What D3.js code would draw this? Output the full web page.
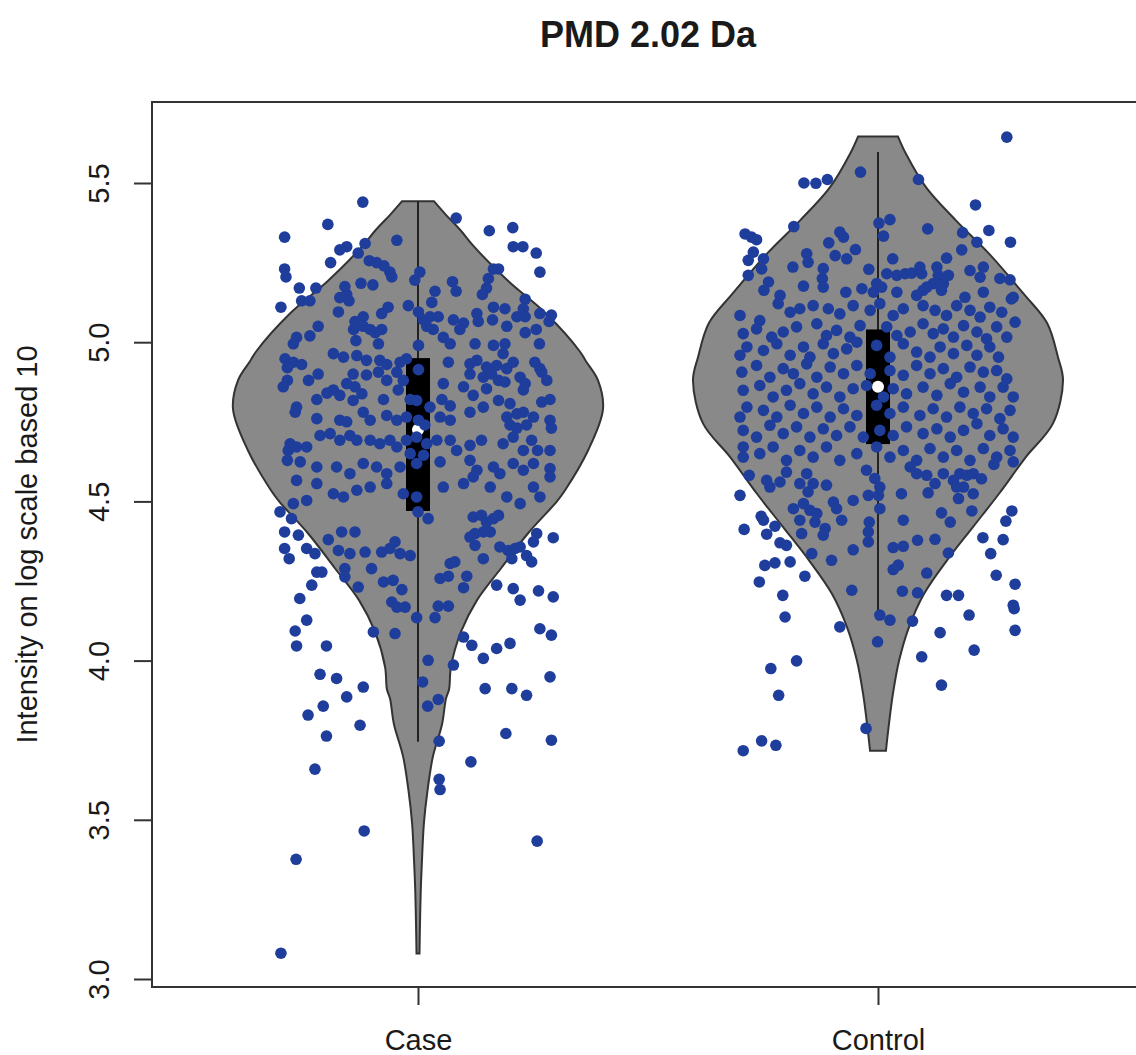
<!doctype html>
<html>
<head>
    <script src="https://d3js.org/d3.v7.min.js"></script>
</head>
<style>
    body { margin: 0; background: #fff; }
    svg text { font-family: "Liberation Sans", Arial, Helvetica, sans-serif; fill: #1a1a1a; }
</style>
<body>
<script>
// categories and summary stats (log10 intensity)
var categories = ["Case", "Control"];
var yTicks = [3.0, 3.5, 4.0, 4.5, 5.0, 5.5];
var medians = [4.725, 4.86];
var q1 = [4.47, 4.68];
var q3 = [4.95, 5.04];
var whiskerLo = [3.745, 4.127];
var whiskerHi = [5.443, 5.597];

// violin outlines: [value, relative density]
var caseOutline = [[5.443,0.086],[5.40,0.151],[5.35,0.232],[5.30,0.303],[5.19,0.492],[5.09,0.692],[4.97,0.876],[4.94,0.908],[4.88,0.973],[4.79,1.0],[4.66,0.919],[4.535,0.795],[4.50,0.751],[4.40,0.595],[4.29,0.449],[4.19,0.319],[4.09,0.232],[3.98,0.178],[3.91,0.168],[3.88,0.151],[3.80,0.13],[3.70,0.081],[3.59,0.051],[3.49,0.032],[3.38,0.022],[3.28,0.015],[3.18,0.011],[3.08,0.008]];
var controlOutline = [[5.646,0.108],[5.592,0.151],[5.487,0.259],[5.382,0.422],[5.278,0.6],[5.15,0.79],[5.06,0.914],[4.953,0.973],[4.88,1.0],[4.745,0.946],[4.64,0.8],[4.524,0.654],[4.42,0.514],[4.315,0.373],[4.21,0.249],[4.106,0.168],[4.00,0.114],[3.897,0.081],[3.79,0.057],[3.717,0.043]];

// jittered observations: [jitter, value]
var casePoints = [[-0.12,5.44],[-0.196,5.37],[-0.29,5.33],[0.083,5.39],[0.155,5.35],[0.206,5.36],[-0.046,5.32],[-0.115,5.31],[-0.155,5.30],[-0.17,5.29],[-0.13,5.28],[-0.19,5.25],[-0.29,5.23],[-0.287,5.205],[0.207,5.30],[0.228,5.30],[0.257,5.28],[0.265,5.22],[-0.106,5.256],[-0.09,5.25],[-0.074,5.24],[-0.061,5.22],[-0.057,5.205],[0.004,5.22],[-0.007,5.195],[0.164,5.23],[0.153,5.20],[0.149,5.17],[0.14,5.15],[0.175,5.23],[-0.258,5.17],[-0.222,5.17],[-0.124,5.185],[-0.098,5.18],[0.075,5.19],[0.083,5.16],[0.037,5.16],[0.03,5.125],[-0.159,5.175],[-0.155,5.15],[-0.17,5.14],[-0.15,5.13],[-0.253,5.13],[-0.235,5.13],[-0.298,5.11],[-0.173,5.095],[-0.065,5.11],[-0.079,5.09],[-0.021,5.115],[0.001,5.095],[0.012,5.07],[0.026,5.08],[0.044,5.08],[0.077,5.07],[0.099,5.06],[0.091,5.04],[0.128,5.09],[0.131,5.065],[0.164,5.11],[0.189,5.105],[0.162,5.07],[0.233,5.135],[0.229,5.105],[0.215,5.08],[0.233,5.08],[0.265,5.09],[0.29,5.085],[0.285,5.065],[0.193,5.05],[0.233,5.03],[0.257,5.04],[0.264,4.995],[-0.119,5.08],[-0.137,5.065],[-0.14,5.04],[-0.119,5.05],[-0.104,5.04],[-0.079,5.04],[-0.093,5.03],[-0.086,4.995],[-0.135,5.005],[-0.217,5.05],[-0.235,5.02],[-0.264,5.015],[-0.271,4.995],[0.001,4.99],[0.055,5.015],[0.07,4.995],[0.124,4.995],[0.164,4.99],[0.189,4.995],[0.019,5.05],[0.033,5.04],
[-0.289,4.948],[-0.271,4.937],[-0.253,4.93],[-0.284,4.92],[-0.184,4.964],[-0.162,4.953],[-0.133,4.958],[-0.112,4.943],[-0.083,4.943],[-0.068,4.93],[-0.039,4.937],[-0.025,4.948],[0.001,4.914],[0.066,4.937],[0.113,4.932],[0.128,4.943],[0.149,4.922],[0.171,4.927],[0.193,4.917],[0.207,4.937],[0.185,4.964],[0.254,4.937],[0.265,4.917],
[-0.217,4.9],[-0.238,4.88],[-0.284,4.88],[-0.293,4.86],[-0.141,4.9],[-0.155,4.87],[-0.137,4.86],[-0.112,4.897],[-0.086,4.906],[-0.068,4.88],[-0.046,4.906],[-0.032,4.88],[0.055,4.87],[0.099,4.86],[0.113,4.9],[0.142,4.89],[0.16,4.9],[0.175,4.88],[0.189,4.875],[0.222,4.89],[0.233,4.87],[0.269,4.906],[0.28,4.88],
[-0.264,4.796],[-0.267,4.78],[-0.22,4.82],[-0.198,4.84],[-0.184,4.85],[-0.17,4.833],[-0.141,4.817],[-0.122,4.838],[-0.075,4.82],[-0.043,4.85],[-0.017,4.82],[-0.003,4.817],[0.026,4.796],[0.052,4.82],[0.07,4.8],[0.12,4.833],[0.149,4.854],[0.175,4.817],[0.2,4.807],[0.229,4.85],[0.269,4.812],[0.287,4.82],
[-0.22,4.76],[-0.17,4.755],[-0.155,4.75],[-0.119,4.78],[-0.104,4.755],[-0.068,4.77],[-0.046,4.755],[-0.025,4.765],[0.001,4.755],[0.015,4.74],[0.048,4.765],[0.07,4.755],[0.113,4.78],[0.142,4.796],[0.193,4.765],[0.215,4.775],[0.229,4.78],[0.251,4.765],[0.2,4.74],[0.215,4.73],[0.236,4.74],[0.287,4.755],[0.29,4.73],
[-0.278,4.681],[-0.282,4.66],[-0.264,4.671],[-0.242,4.671],[-0.213,4.707],[-0.191,4.713],[-0.17,4.692],[-0.148,4.707],[-0.133,4.692],[-0.104,4.692],[-0.083,4.681],[-0.061,4.692],[-0.046,4.671],[-0.025,4.692],[-0.003,4.702],[0.019,4.681],[0.041,4.692],[0.07,4.692],[0.084,4.66],[0.113,4.676],[0.138,4.692],[0.185,4.681],[0.207,4.702],[0.229,4.66],[0.247,4.692],[0.26,4.66],[0.287,4.66],[-0.017,4.65],[0.012,4.645],
[-0.284,4.629],[-0.256,4.624],[-0.22,4.608],[-0.177,4.608],[-0.148,4.587],[-0.119,4.619],[-0.09,4.608],[-0.068,4.587],[-0.039,4.608],[-0.003,4.619],[0.048,4.624],[0.113,4.629],[0.128,4.598],[0.164,4.608],[0.178,4.587],[0.207,4.619],[0.229,4.598],[0.251,4.619],[0.287,4.603],
[-0.264,4.566],[-0.22,4.556],[-0.184,4.524],[-0.162,4.514],[-0.133,4.535],[-0.104,4.545],[-0.068,4.556],[-0.032,4.524],[-0.003,4.514],[0.055,4.545],[0.099,4.556],[0.12,4.577],[0.157,4.545],[0.193,4.514],[0.222,4.493],[0.251,4.545],[0.265,4.514],[0.287,4.577],[-0.271,4.493],[-0.242,4.503],
[-0.3,4.467],[-0.275,4.446],[-0.29,4.404],[-0.26,4.394],[-0.29,4.352],[-0.28,4.32],[-0.242,4.352],[-0.224,4.336],[-0.195,4.38],[-0.166,4.404],[-0.137,4.404],[-0.173,4.346],[-0.148,4.336],[-0.115,4.341],[-0.079,4.341],[-0.061,4.352],[-0.05,4.373],[-0.039,4.336],[-0.017,4.33],[-0.101,4.289],[-0.159,4.289],[-0.22,4.278],[-0.209,4.278],[-0.231,4.237],[-0.257,4.195],[-0.159,4.263],[-0.13,4.231],[-0.075,4.247],[-0.054,4.252],[-0.035,4.223],[-0.057,4.184],[-0.046,4.168],[-0.028,4.168],[-0.003,4.135],[-0.097,4.09],[-0.05,4.085],[-0.242,4.127],[-0.267,4.093],[-0.264,4.046],[-0.199,4.046],[-0.213,3.957],[-0.177,3.944],[-0.119,3.917],[-0.155,3.886],
[0.022,4.446],[0.0,4.467],[0.07,4.305],[0.048,4.258],[0.066,4.265],[0.106,4.265],[0.099,4.229],[0.044,4.171],[0.066,4.171],[0.037,4.135],[0.08,4.31],[0.124,4.399],[0.142,4.404],[0.157,4.404],[0.12,4.451],[0.138,4.456],[0.164,4.446],[0.149,4.435],[0.175,4.456],[0.142,4.32],[0.113,4.388],[0.124,4.362],[0.178,4.357],[0.196,4.346],[0.211,4.352],[0.204,4.32],[0.222,4.357],[0.236,4.33],[0.247,4.31],[0.251,4.373],[0.258,4.399],[0.294,4.386],[0.171,4.237],[0.207,4.226],[0.222,4.19],[0.262,4.219],[0.294,4.2],[0.265,4.1],[0.29,4.08],[0.099,4.074],[0.117,4.048],[0.171,4.038],[0.2,4.054],[0.142,4.007],[0.287,3.949],[0.146,3.912],[0.204,3.912],[0.236,3.891],[0.022,4.001],[0.077,3.986],[0.01,3.933],[0.044,3.878],
[-0.206,3.857],[-0.239,3.829],[-0.126,3.797],[-0.199,3.763],[-0.224,3.659],[-0.117,3.465],[-0.265,3.376],[-0.298,3.081],[0.021,3.857],[0.046,3.747],[0.046,3.627],[0.048,3.595],[0.115,3.682],[0.191,3.771],[0.29,3.75],[0.259,3.433]];

var controlPoints = [[0.28,5.644],[-0.038,5.534],[-0.161,5.50],[-0.135,5.499],[-0.11,5.511],[0.088,5.511],[0.212,5.431],[0.002,5.374],[0.026,5.385],[0.012,5.333],[0.108,5.356],[-0.183,5.363],[-0.289,5.34],[-0.275,5.33],[-0.264,5.322],[-0.083,5.346],[-0.075,5.33],[-0.107,5.312],[-0.049,5.291],[0.184,5.344],[0.241,5.351],[0.215,5.314],[0.288,5.314],[0.182,5.29],[-0.271,5.283],[-0.282,5.257],[-0.249,5.262],[-0.253,5.23],[-0.282,5.21],[-0.155,5.278],[-0.152,5.251],[-0.093,5.272],[-0.068,5.262],[-0.185,5.236],[-0.119,5.231],[-0.121,5.2],[-0.119,5.173],[-0.02,5.229],[0.032,5.262],[0.019,5.215],[0.041,5.21],[0.059,5.215],[0.073,5.217],[0.091,5.236],[0.095,5.215],[0.128,5.236],[0.131,5.21],[0.149,5.264],[0.153,5.21],[0.12,5.184],[0.142,5.184],[0.106,5.173],[0.2,5.225],[0.229,5.236],[0.222,5.204],[0.229,5.157],[0.265,5.2],[0.287,5.196],[0.294,5.141],[-0.238,5.189],[-0.248,5.163],[-0.213,5.147],[-0.162,5.176],[-0.07,5.157],[-0.035,5.168],[-0.003,5.184],[0.008,5.173],[-0.01,5.157],[0.041,5.157],[0.189,5.141],[0.084,5.147],[0.098,5.163],[0.138,5.163],
[-0.3,5.084],[-0.257,5.068],[-0.217,5.121],[-0.191,5.094],[-0.17,5.105],[-0.141,5.115],[-0.108,5.105],[-0.083,5.089],[-0.054,5.115],[-0.017,5.1],[0.004,5.121],[0.033,5.084],[0.055,5.105],[0.098,5.115],[0.124,5.1],[0.149,5.084],[0.171,5.115],[0.2,5.1],[0.222,5.079],[0.243,5.11],[0.269,5.094],[0.29,5.136],
[-0.293,5.027],[-0.264,5.042],[-0.231,5.016],[-0.206,5.032],[-0.177,5.048],[-0.133,5.058],[-0.112,5.021],[-0.09,5.037],[-0.061,5.016],[-0.039,5.052],[0.019,5.048],[0.041,5.021],[0.07,5.032],[0.098,5.058],[0.12,5.027],[0.142,5.042],[0.164,5.016],[0.186,5.052],[0.215,5.032],[0.236,5.011],[0.258,5.048],[0.28,5.016],[0.298,5.063],
[-0.285,4.985],[-0.3,4.959],[-0.249,4.974],[-0.22,4.995],[-0.191,4.959],[-0.162,4.985],[-0.148,4.953],[-0.119,4.995],[-0.097,4.964],[-0.068,4.979],[-0.046,5.0],[-0.003,4.99],[0.026,4.953],[0.055,4.995],[0.084,4.969],[0.113,4.953],[0.135,4.985],[0.164,4.964],[0.193,4.99],[0.215,4.959],[0.243,4.985],[0.262,4.953],
[-0.296,4.906],[-0.264,4.927],[-0.235,4.89],[-0.206,4.917],[-0.184,4.901],[-0.155,4.932],[-0.133,4.89],[-0.104,4.922],[-0.075,4.901],[-0.046,4.927],[-0.017,4.901],[0.026,4.911],[0.055,4.896],[0.084,4.927],[0.113,4.901],[0.142,4.917],[0.171,4.89],[0.2,4.922],[0.229,4.906],[0.258,4.911],[0.28,4.885],
[-0.293,4.849],[-0.257,4.864],[-0.228,4.828],[-0.199,4.849],[-0.17,4.87],[-0.141,4.838],[-0.112,4.859],[-0.083,4.828],[-0.054,4.854],[-0.025,4.864],[0.012,4.828],[0.033,4.854],[0.062,4.838],[0.098,4.859],[0.128,4.833],[0.157,4.87],[0.186,4.843],[0.222,4.859],[0.243,4.828],[0.272,4.859],[0.294,4.828],
[-0.285,4.796],[-0.3,4.765],[-0.249,4.786],[-0.22,4.765],[-0.191,4.802],[-0.162,4.776],[-0.133,4.796],[-0.104,4.765],[-0.075,4.791],[-0.046,4.77],[-0.003,4.802],[0.026,4.776],[0.055,4.796],[0.091,4.77],[0.12,4.791],[0.149,4.765],[0.178,4.796],[0.207,4.776],[0.236,4.791],[0.265,4.76],[0.287,4.786],
[-0.293,4.723],[-0.264,4.702],[-0.235,4.739],[-0.206,4.713],[-0.177,4.734],[-0.148,4.702],[-0.119,4.728],[-0.09,4.707],[-0.061,4.734],[-0.032,4.702],[0.004,4.723],[0.033,4.707],[0.062,4.734],[0.098,4.713],[0.128,4.728],[0.157,4.702],[0.186,4.723],[0.215,4.744],[0.243,4.707],[0.272,4.728],[0.294,4.702],
[-0.293,4.671],[-0.293,4.639],[-0.257,4.65],[-0.228,4.671],[-0.199,4.629],[-0.17,4.66],[-0.141,4.639],[-0.112,4.671],[-0.083,4.629],[-0.046,4.65],[-0.003,4.671],[0.026,4.639],[0.055,4.66],[0.084,4.629],[0.113,4.666],[0.142,4.639],[0.171,4.66],[0.2,4.629],[0.229,4.666],[0.258,4.639],[0.287,4.66],[0.294,4.624],
[-0.28,4.582],[-0.242,4.566],[-0.235,4.545],[-0.213,4.561],[-0.199,4.592],[-0.17,4.556],[-0.155,4.587],[-0.141,4.556],[-0.152,4.53],[-0.162,4.493],[-0.184,4.477],[-0.148,4.472],[-0.133,4.462],[-0.137,4.435],[-0.17,4.441],[-0.166,4.399],[-0.119,4.394],[-0.115,4.415],[-0.144,4.336],[-0.101,4.315],[-0.112,4.551],[-0.097,4.498],[-0.09,4.477],[-0.079,4.441],[-0.054,4.503],[-0.054,4.348],[-0.057,4.221],[-0.083,4.106],[-0.025,4.598],[-0.007,4.572],[0.004,4.545],[-0.021,4.519],[0.001,4.519],[0.004,4.477],[-0.019,4.435],[-0.021,4.404],[-0.021,4.373],[0.004,4.143],[0.026,4.127],[-0.001,4.059],[-0.026,3.787],
[0.051,4.524],[0.055,4.441],[0.033,4.355],[0.055,4.359],[0.033,4.286],[0.044,4.3],[0.086,4.378],[0.124,4.381],[0.106,4.275],[0.153,4.338],[0.053,4.218],[0.086,4.213],[0.075,4.124],[0.07,4.608],[0.084,4.587],[0.106,4.582],[0.124,4.556],[0.109,4.527],[0.142,4.587],[0.164,4.566],[0.178,4.587],[0.193,4.582],[0.207,4.587],[0.225,4.571],[0.171,4.545],[0.186,4.545],[0.175,4.509],[0.207,4.524],[0.204,4.47],[0.138,4.464],[0.157,4.435],[0.252,4.616],
[0.291,4.47],[0.278,4.438],[0.228,4.386],[0.272,4.38],[0.245,4.336],[0.257,4.268],[0.298,4.24],[0.294,4.174],[0.296,4.163],[0.298,4.095],[0.198,4.143],[0.209,4.033],[0.135,4.088],[0.149,4.205],[0.175,4.205],[0.095,4.012],[0.138,3.923],
[-0.3,4.519],[-0.291,4.412],[-0.254,4.453],[-0.249,4.441],[-0.242,4.397],[-0.224,4.422],[-0.213,4.37],[-0.199,4.362],[-0.246,4.299],[-0.224,4.307],[-0.191,4.31],[-0.258,4.247],[-0.207,4.205],[-0.202,4.137],[-0.159,4.265],[-0.177,3.999],[-0.233,3.975],[-0.216,3.891],[-0.253,3.748],[-0.222,3.734],[-0.293,3.717]];

var outlines = [caseOutline, controlOutline];
var points = [casePoints, controlPoints];

var W = 1136, H = 1055;
var plotLeft = 152, plotRight = 1144, plotTop = 102, plotBottom = 987;

var svg = d3.select("body").append("svg")
    .attr("width", W)
    .attr("height", H);

var x = d3.scaleLinear()
    .domain([1, 2])
    .range([418, 878]);

var y = d3.scaleLinear()
    .domain([3, 5.5])
    .range([979, 183]);

var halfWidth = d3.scaleLinear()
    .domain([0, 1])
    .range([0, 185]);

var boxHalf = 12;

// violins
var area = d3.area()
    .y(function(d) { return y(d[0]); })
    .curve(d3.curveCatmullRom);

outlines.forEach(function(o, i) {
    var cx = x(i + 1);
    area.x0(function(d) { return cx - halfWidth(d[1]); })
        .x1(function(d) { return cx + halfWidth(d[1]); });
    svg.append("path")
        .attr("d", area(o))
        .attr("fill", "#898989")
        .attr("stroke", "#333")
        .attr("stroke-width", 2);
});

// whiskers, boxes, medians
categories.forEach(function(c, i) {
    var cx = x(i + 1);
    svg.append("line")
        .attr("x1", cx).attr("x2", cx)
        .attr("y1", y(whiskerLo[i])).attr("y2", y(whiskerHi[i]))
        .attr("stroke", "#222")
        .attr("stroke-width", 2);
    svg.append("rect")
        .attr("x", cx - boxHalf)
        .attr("width", boxHalf * 2)
        .attr("y", y(q3[i]))
        .attr("height", y(q1[i]) - y(q3[i]))
        .attr("fill", "#000");
    svg.append("circle")
        .attr("cx", cx)
        .attr("cy", y(medians[i]))
        .attr("r", 6)
        .attr("fill", "#fff");
});

// jittered points
points.forEach(function(pts, i) {
    svg.append("g").selectAll("circle")
        .data(pts)
        .enter()
        .append("circle")
        .attr("cx", function(d) { return x(i + 1 + d[0]); })
        .attr("cy", function(d) { return y(d[1]); })
        .attr("r", 5.8)
        .attr("fill", "#1f3d9b");
});

// frame
svg.append("rect")
    .attr("x", plotLeft)
    .attr("y", plotTop)
    .attr("width", plotRight - plotLeft)
    .attr("height", plotBottom - plotTop)
    .attr("fill", "none")
    .attr("stroke", "#333")
    .attr("stroke-width", 2);

// y axis
var yAxis = svg.append("g")
    .attr("transform", "translate(" + plotLeft + ",0)")
    .call(d3.axisLeft(y).tickValues(yTicks).tickFormat(d3.format(".1f")).tickSize(18).tickPadding(0));
yAxis.select(".domain").remove();
yAxis.selectAll(".tick line").attr("stroke", "#333").attr("stroke-width", 2);
yAxis.selectAll(".tick text")
    .attr("x", null).attr("dy", null)
    .attr("transform", "translate(-43,0) rotate(-90)")
    .attr("text-anchor", "middle")
    .style("font-size", "29px")
    .style("font-family", "'Liberation Sans', Arial, sans-serif")
    .attr("fill", "#1a1a1a");

// x axis
var xAxis = svg.append("g")
    .attr("transform", "translate(0," + plotBottom + ")")
    .call(d3.axisBottom(x).tickValues([1, 2]).tickFormat(function(d) { return categories[d - 1]; }).tickSize(18).tickPadding(0));
xAxis.select(".domain").remove();
xAxis.selectAll(".tick line").attr("stroke", "#333").attr("stroke-width", 2);
xAxis.selectAll(".tick text")
    .attr("y", 63).attr("dy", null)
    .style("font-size", "29px")
    .style("font-family", "'Liberation Sans', Arial, sans-serif")
    .attr("fill", "#1a1a1a");

// titles
svg.append("text")
    .attr("x", (plotLeft + plotRight) / 2)
    .attr("y", 47)
    .attr("text-anchor", "middle")
    .style("font-size", "36px")
    .style("font-weight", "bold")
    .text("PMD 2.02 Da");

svg.append("text")
    .attr("transform", "translate(37," + ((plotTop + plotBottom) / 2) + ") rotate(-90)")
    .attr("text-anchor", "middle")
    .style("font-size", "29px")
    .text("Intensity on log scale based 10");
</script>
</body>
</html>
